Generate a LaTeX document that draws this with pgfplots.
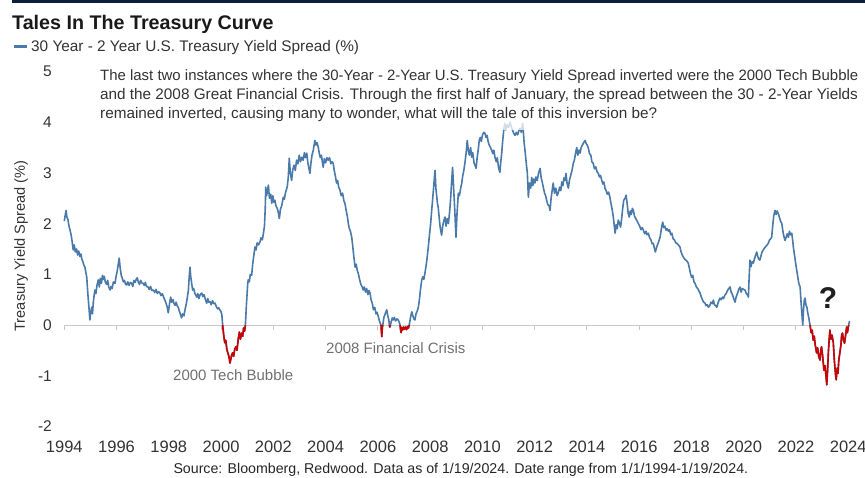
\documentclass[border=0pt]{standalone}
\usepackage{pgfplots}
\pgfplotsset{compat=1.18}
\usepackage{fontspec}
\setmainfont{Liberation Sans}
\definecolor{lineblue}{RGB}{74,122,170}
\definecolor{invred}{RGB}{204,0,0}
\definecolor{navy}{RGB}{12,30,60}
\definecolor{txt}{RGB}{51,51,51}
\definecolor{lbl}{RGB}{112,112,112}
\definecolor{zline}{RGB}{200,200,200}
\begin{document}
\begin{tikzpicture}
\path[use as bounding box] (0pt,0pt) rectangle (865pt,477pt);
\fill[navy] (12pt,473.5pt) rectangle (865pt,477pt);
\node[anchor=base west, inner sep=0pt, font=\fontsize{19.7}{22}\selectfont\bfseries, text=black!90] at (12pt,447.5pt) {Tales In The Treasury Curve};
\draw[lineblue, line width=3pt] (14pt,430.3pt) -- (27pt,430.3pt);
\node[anchor=base west, inner sep=0pt, font=\fontsize{15.35}{18}\selectfont, text=txt] at (31pt,425.3pt) {30 Year - 2 Year U.S. Treasury Yield Spread (\%)};
\node[rotate=90, inner sep=0pt, font=\fontsize{14.6}{17}\selectfont, text=txt] at (21pt,231pt) {Treasury Yield Spread (\%)};
\begin{axis}[
  at={(64.3pt,50.6pt)}, anchor=south west, scale only axis,
  width=783.9pt, height=354.9pt,
  xmin=1994, xmax=2024, ymin=-2, ymax=5, clip=false,
  axis line style={draw=none}, tick style={draw=none},
  xtick={1994,1996,1998,2000,2002,2004,2006,2008,2010,2012,2014,2016,2018,2020,2022,2024},
  xticklabels={1994,1996,1998,2000,2002,2004,2006,2008,2010,2012,2014,2016,2018,2020,2022,2024},
  ytick={-2,-1,0,1,2,3,4,5},
  yticklabels={-2,-1,0,1,2,3,4,5},
  xticklabel style={anchor=base, yshift=-26.3pt, inner sep=0pt, font=\fontsize{16.5}{18}\selectfont, text=txt},
  yticklabel style={anchor=east, xshift=-12.3pt, inner sep=0pt, font=\fontsize{15.5}{18}\selectfont, text=txt},
]
\draw[zline, line width=1pt] (axis cs:1994,0) -- (axis cs:2024.05,0);
\pgfplotsinvokeforeach{1994,1996,1998,2000,2002,2004,2006,2008,2010,2012,2014,2016,2018,2020,2022}{
  \draw[zline, line width=1pt] (axis cs:#1,0) -- ++(0pt,-5pt);
}
\addplot[lineblue, line width=1.6pt, line join=round] coordinates {
(1994.00,2.05) (1994.03,2.15) (1994.07,2.26) (1994.10,2.12) (1994.14,2.08) (1994.18,1.95) (1994.22,1.87) (1994.26,1.78)
(1994.30,1.65) (1994.34,1.48) (1994.38,1.58) (1994.42,1.44) (1994.47,1.50) (1994.51,1.38) (1994.55,1.46) (1994.60,1.35)
(1994.64,1.40) (1994.67,1.30) (1994.71,1.25) (1994.75,1.18) (1994.79,1.14) (1994.83,1.02) (1994.86,0.94) (1994.89,0.70)
(1994.92,0.49) (1994.95,0.30) (1994.98,0.10) (1995.01,0.25) (1995.05,0.35) (1995.08,0.22) (1995.11,0.45) (1995.14,0.58)
(1995.17,0.69) (1995.21,0.62) (1995.25,0.78) (1995.30,0.89) (1995.34,0.75) (1995.38,0.92) (1995.42,0.82) (1995.46,0.98)
(1995.49,0.90) (1995.53,0.96) (1995.57,0.85) (1995.62,0.80) (1995.66,0.88) (1995.70,0.75) (1995.75,0.69) (1995.79,0.76)
(1995.83,0.72) (1995.88,0.85) (1995.94,0.82) (1995.98,0.95) (1996.02,1.05) (1996.06,1.18) (1996.10,1.32) (1996.14,1.12)
(1996.18,0.98) (1996.22,0.92) (1996.26,0.85) (1996.30,0.88) (1996.35,0.80) (1996.39,0.79) (1996.43,0.85) (1996.48,0.78)
(1996.53,0.84) (1996.58,0.82) (1996.62,0.76) (1996.66,0.88) (1996.71,0.84) (1996.75,0.90) (1996.79,0.93) (1996.83,0.85)
(1996.88,0.80) (1996.92,0.88) (1996.97,0.83) (1997.02,0.82) (1997.06,0.78) (1997.10,0.84) (1997.15,0.76) (1997.21,0.75)
(1997.25,0.70) (1997.30,0.76) (1997.35,0.68) (1997.41,0.69) (1997.46,0.64) (1997.51,0.70) (1997.56,0.62) (1997.61,0.66)
(1997.66,0.63) (1997.70,0.58) (1997.75,0.62) (1997.80,0.55) (1997.85,0.49) (1997.90,0.42) (1997.94,0.35) (1997.98,0.24)
(1998.02,0.40) (1998.07,0.55) (1998.11,0.45) (1998.16,0.50) (1998.20,0.42) (1998.24,0.39) (1998.28,0.45) (1998.32,0.38)
(1998.36,0.35) (1998.40,0.28) (1998.45,0.20) (1998.49,0.14) (1998.53,0.22) (1998.58,0.18) (1998.62,0.30) (1998.67,0.42)
(1998.71,0.55) (1998.75,0.69) (1998.78,0.95) (1998.81,1.14) (1998.84,0.95) (1998.88,0.80) (1998.91,0.69) (1998.95,0.72)
(1999.00,0.62) (1999.04,0.58) (1999.07,0.55) (1999.11,0.62) (1999.15,0.52) (1999.20,0.60) (1999.26,0.63) (1999.30,0.56)
(1999.35,0.60) (1999.40,0.50) (1999.45,0.43) (1999.49,0.52) (1999.53,0.45) (1999.58,0.46) (1999.62,0.40) (1999.67,0.48)
(1999.72,0.42) (1999.77,0.43) (1999.82,0.36) (1999.87,0.32) (1999.91,0.34) (1999.95,0.30) (2000.00,0.26) (2000.03,0.20)
(2000.06,0.00) (2000.10,-0.20) (2000.14,-0.35) (2000.18,-0.30) (2000.22,-0.48) (2000.26,-0.55) (2000.30,-0.62) (2000.34,-0.75)
(2000.37,-0.68) (2000.40,-0.60) (2000.44,-0.55) (2000.48,-0.62) (2000.52,-0.48) (2000.57,-0.43) (2000.61,-0.50) (2000.65,-0.30)
(2000.70,-0.14) (2000.74,-0.28) (2000.79,-0.16) (2000.83,-0.22) (2000.86,-0.06) (2000.90,-0.12) (2000.93,0.00) (2000.97,0.40)
(2001.02,0.82) (2001.04,0.89) (2001.08,0.85) (2001.12,1.00) (2001.17,0.98) (2001.21,1.20) (2001.26,1.40) (2001.30,1.54)
(2001.34,1.48) (2001.38,1.62) (2001.43,1.58) (2001.49,1.64) (2001.53,1.72) (2001.58,1.68) (2001.62,1.81) (2001.66,1.95)
(2001.69,2.30) (2001.71,2.72) (2001.74,2.55) (2001.77,2.62) (2001.81,2.76) (2001.85,2.50) (2001.90,2.58) (2001.94,2.40)
(2001.98,2.55) (2002.02,2.42) (2002.06,2.46) (2002.10,2.35) (2002.15,2.30) (2002.19,2.22) (2002.23,2.10) (2002.27,2.28)
(2002.32,2.35) (2002.38,2.52) (2002.42,2.48) (2002.47,2.62) (2002.53,2.72) (2002.57,2.90) (2002.61,3.29) (2002.65,3.00)
(2002.70,2.85) (2002.74,3.05) (2002.79,3.15) (2002.84,3.05) (2002.89,3.25) (2002.94,3.18) (2002.99,3.35) (2003.04,3.22)
(2003.09,3.31) (2003.14,3.25) (2003.19,3.40) (2003.23,3.30) (2003.28,3.39) (2003.32,3.20) (2003.36,3.10) (2003.40,2.99)
(2003.44,3.20) (2003.48,3.35) (2003.53,3.45) (2003.56,3.55) (2003.59,3.64) (2003.63,3.55) (2003.67,3.60) (2003.72,3.50)
(2003.76,3.38) (2003.80,3.30) (2003.84,3.35) (2003.88,3.20) (2003.91,3.11) (2003.95,3.28) (2004.00,3.20) (2004.05,3.30)
(2004.10,3.25) (2004.15,3.30) (2004.20,3.18) (2004.25,3.22) (2004.29,3.19) (2004.33,3.05) (2004.38,2.92) (2004.42,2.80)
(2004.46,2.85) (2004.50,2.72) (2004.55,2.66) (2004.60,2.55) (2004.65,2.60) (2004.70,2.45) (2004.74,2.40) (2004.78,2.28)
(2004.83,2.15) (2004.87,2.00) (2004.91,1.90) (2004.95,1.85) (2005.00,1.73) (2005.04,1.55) (2005.08,1.35) (2005.13,1.14)
(2005.17,1.20) (2005.21,1.08) (2005.25,1.02) (2005.30,0.90) (2005.35,0.80) (2005.40,0.75) (2005.44,0.69) (2005.48,0.75)
(2005.53,0.65) (2005.57,0.72) (2005.62,0.60) (2005.66,0.68) (2005.70,0.63) (2005.74,0.50) (2005.79,0.42) (2005.83,0.30)
(2005.88,0.35) (2005.93,0.22) (2005.97,0.25) (2006.02,0.16) (2006.06,0.08) (2006.10,0.02) (2006.12,0.00) (2006.15,-0.23)
(2006.17,-0.05) (2006.19,0.00) (2006.23,0.15) (2006.28,0.22) (2006.34,0.30) (2006.38,0.18) (2006.42,0.10) (2006.44,0.00)
(2006.46,-0.04) (2006.48,0.00) (2006.52,0.08) (2006.55,0.14) (2006.59,0.10) (2006.63,0.15) (2006.68,0.08) (2006.73,0.12)
(2006.78,0.10) (2006.82,0.05) (2006.85,0.00) (2006.87,-0.10) (2006.89,-0.15) (2006.92,-0.05) (2006.95,-0.10) (2006.98,-0.04)
(2007.02,-0.08) (2007.06,-0.04) (2007.10,-0.09) (2007.14,-0.03) (2007.17,-0.06) (2007.20,0.00) (2007.24,0.12) (2007.27,0.20)
(2007.30,0.26) (2007.34,0.18) (2007.38,0.12) (2007.42,0.10) (2007.46,0.22) (2007.51,0.28) (2007.55,0.35) (2007.59,0.50)
(2007.63,0.70) (2007.68,0.89) (2007.72,0.95) (2007.76,0.90) (2007.80,1.02) (2007.84,1.15) (2007.88,1.30) (2007.93,1.54)
(2007.97,1.75) (2008.02,2.00) (2008.06,2.26) (2008.10,2.50) (2008.14,2.75) (2008.17,2.95) (2008.19,3.05) (2008.22,2.70)
(2008.25,2.55) (2008.28,2.40) (2008.31,2.32) (2008.35,2.10) (2008.38,1.95) (2008.41,1.85) (2008.44,1.77) (2008.48,1.95)
(2008.52,2.05) (2008.57,2.13) (2008.61,1.95) (2008.65,2.10) (2008.70,2.00) (2008.74,2.20) (2008.78,2.45) (2008.82,2.80)
(2008.86,3.11) (2008.90,2.70) (2008.94,2.30) (2008.99,1.73) (2009.03,2.20) (2009.08,2.60) (2009.12,2.55) (2009.17,2.70)
(2009.21,2.80) (2009.25,2.95) (2009.29,3.05) (2009.33,3.19) (2009.38,3.40) (2009.42,3.64) (2009.46,3.45) (2009.50,3.35)
(2009.55,3.50) (2009.59,3.31) (2009.63,3.40) (2009.68,3.20) (2009.72,3.15) (2009.76,3.09) (2009.80,3.30) (2009.84,3.45)
(2009.88,3.64) (2009.92,3.70) (2009.96,3.62) (2010.00,3.74) (2010.05,3.80) (2010.10,3.78) (2010.14,3.70) (2010.18,3.74)
(2010.22,3.62) (2010.26,3.55) (2010.31,3.50) (2010.36,3.44) (2010.40,3.38) (2010.44,3.45) (2010.48,3.31) (2010.53,3.22)
(2010.57,3.30) (2010.62,3.10) (2010.67,3.01) (2010.70,3.20) (2010.74,3.39) (2010.78,3.65) (2010.82,3.85) (2010.86,3.98)
(2010.90,3.85) (2010.95,3.95) (2011.00,3.90) (2011.06,4.00) (2011.10,3.92) (2011.15,3.85) (2011.20,3.78) (2011.25,3.74)
(2011.30,3.80) (2011.35,3.75) (2011.40,3.84) (2011.44,3.88) (2011.49,3.80) (2011.54,3.98) (2011.57,3.80) (2011.60,3.58)
(2011.64,3.40) (2011.68,3.19) (2011.72,3.00) (2011.76,2.52) (2011.80,2.80) (2011.85,2.70) (2011.89,2.91) (2011.93,2.75)
(2011.97,2.88) (2012.01,2.80) (2012.05,2.92) (2012.10,2.85) (2012.15,3.00) (2012.21,3.09) (2012.25,2.90) (2012.29,2.82)
(2012.33,2.72) (2012.38,2.60) (2012.42,2.55) (2012.46,2.46) (2012.50,2.38) (2012.55,2.35) (2012.59,2.26) (2012.63,2.50)
(2012.67,2.65) (2012.71,2.80) (2012.76,2.60) (2012.81,2.70) (2012.86,2.55) (2012.91,2.62) (2012.96,2.72) (2013.00,2.65)
(2013.04,2.82) (2013.08,2.75) (2013.12,2.90) (2013.16,2.85) (2013.20,2.99) (2013.24,2.80) (2013.29,2.70) (2013.33,2.85)
(2013.38,2.95) (2013.43,3.05) (2013.48,3.19) (2013.52,3.25) (2013.57,3.40) (2013.61,3.50) (2013.65,3.35) (2013.70,3.45)
(2013.74,3.39) (2013.78,3.50) (2013.83,3.55) (2013.88,3.60) (2013.93,3.64) (2013.97,3.58) (2014.01,3.55) (2014.05,3.50)
(2014.10,3.38) (2014.15,3.35) (2014.19,3.22) (2014.24,3.19) (2014.29,3.08) (2014.34,3.12) (2014.39,3.02) (2014.44,2.99)
(2014.48,2.92) (2014.52,2.95) (2014.57,2.85) (2014.61,2.78) (2014.65,2.82) (2014.69,2.70) (2014.73,2.66) (2014.78,2.58)
(2014.83,2.62) (2014.88,2.52) (2014.92,2.40) (2014.96,2.30) (2015.01,2.13) (2015.05,1.95) (2015.08,1.81) (2015.12,1.98)
(2015.16,1.90) (2015.20,2.07) (2015.25,2.00) (2015.29,1.93) (2015.33,2.10) (2015.37,2.30) (2015.41,2.46) (2015.46,2.50)
(2015.50,2.56) (2015.54,2.40) (2015.58,2.20) (2015.62,2.13) (2015.66,2.25) (2015.70,2.18) (2015.74,2.30) (2015.78,2.26)
(2015.82,2.15) (2015.87,2.10) (2015.92,2.05) (2015.97,2.00) (2016.02,1.95) (2016.07,1.88) (2016.12,1.92) (2016.16,1.87)
(2016.21,1.80) (2016.26,1.85) (2016.30,1.78) (2016.35,1.81) (2016.40,1.72) (2016.45,1.68) (2016.50,1.60) (2016.54,1.61)
(2016.58,1.52) (2016.62,1.44) (2016.66,1.52) (2016.70,1.58) (2016.75,1.65) (2016.80,1.73) (2016.85,1.90) (2016.90,2.03)
(2016.94,1.92) (2016.98,1.95) (2017.03,1.87) (2017.07,1.90) (2017.12,1.85) (2017.16,1.88) (2017.21,1.78) (2017.25,1.81)
(2017.30,1.70) (2017.35,1.68) (2017.40,1.62) (2017.44,1.61) (2017.50,1.58) (2017.56,1.54) (2017.60,1.45) (2017.65,1.38)
(2017.69,1.34) (2017.74,1.30) (2017.79,1.28) (2017.84,1.25) (2017.88,1.22) (2017.93,1.10) (2017.97,1.00) (2018.01,0.94)
(2018.05,0.98) (2018.10,0.85) (2018.14,0.82) (2018.19,0.75) (2018.24,0.72) (2018.28,0.68) (2018.33,0.63) (2018.38,0.55)
(2018.42,0.50) (2018.47,0.45) (2018.52,0.43) (2018.56,0.38) (2018.61,0.40) (2018.65,0.35) (2018.70,0.38) (2018.75,0.45)
(2018.80,0.42) (2018.84,0.49) (2018.88,0.40) (2018.93,0.38) (2018.97,0.35) (2019.01,0.42) (2019.05,0.48) (2019.09,0.53)
(2019.14,0.50) (2019.19,0.55) (2019.23,0.52) (2019.28,0.59) (2019.33,0.62) (2019.38,0.68) (2019.43,0.72) (2019.48,0.75)
(2019.52,0.65) (2019.57,0.60) (2019.62,0.52) (2019.67,0.45) (2019.71,0.55) (2019.76,0.62) (2019.81,0.70) (2019.86,0.75)
(2019.90,0.65) (2019.95,0.72) (2020.00,0.70) (2020.05,0.69) (2020.10,0.62) (2020.15,0.59) (2020.18,0.55) (2020.21,0.95)
(2020.24,1.28) (2020.28,1.15) (2020.32,1.25) (2020.37,1.22) (2020.41,1.30) (2020.46,1.38) (2020.50,1.44) (2020.54,1.35)
(2020.58,1.30) (2020.62,1.28) (2020.67,1.38) (2020.71,1.45) (2020.75,1.48) (2020.80,1.52) (2020.85,1.55) (2020.90,1.58)
(2020.94,1.61) (2020.99,1.68) (2021.03,1.70) (2021.07,1.73) (2021.11,1.95) (2021.15,2.15) (2021.20,2.26) (2021.24,2.18)
(2021.28,2.25) (2021.32,2.20) (2021.37,2.12) (2021.41,2.05) (2021.46,2.00) (2021.50,1.85) (2021.54,1.75) (2021.58,1.67)
(2021.62,1.72) (2021.67,1.80) (2021.71,1.73) (2021.75,1.85) (2021.79,1.78) (2021.84,1.81) (2021.88,1.65) (2021.90,1.54)
(2021.94,1.40) (2021.98,1.25) (2022.03,1.08) (2022.07,0.95) (2022.11,0.82) (2022.16,0.75) (2022.19,0.49) (2022.23,0.20)
(2022.26,0.00) (2022.29,0.30) (2022.32,0.49) (2022.35,0.53) (2022.38,0.40) (2022.42,0.35) (2022.45,0.24) (2022.49,0.15)
(2022.52,0.05) (2022.54,0.00) (2022.58,-0.15) (2022.62,-0.10) (2022.66,-0.30) (2022.70,-0.22) (2022.74,-0.40) (2022.79,-0.55)
(2022.83,-0.45) (2022.87,-0.62) (2022.92,-0.69) (2022.95,-0.50) (2022.98,-0.43) (2023.02,-0.60) (2023.07,-0.89) (2023.11,-0.80)
(2023.15,-1.00) (2023.18,-1.18) (2023.21,-0.90) (2023.24,-0.55) (2023.27,-0.30) (2023.30,-0.10) (2023.34,-0.28) (2023.38,-0.20)
(2023.43,-0.35) (2023.47,-0.70) (2023.51,-0.95) (2023.54,-1.08) (2023.58,-0.85) (2023.61,-0.95) (2023.64,-0.69) (2023.68,-0.55)
(2023.72,-0.40) (2023.75,-0.20) (2023.78,-0.16) (2023.82,-0.30) (2023.86,-0.36) (2023.90,-0.20) (2023.94,-0.04) (2023.97,-0.15)
(2024.00,-0.05) (2024.02,0.00) (2024.05,0.08)
};
\addplot[invred, line width=1.6pt, line join=round] coordinates {
(2000.06,0.00) (2000.10,-0.20) (2000.14,-0.35) (2000.18,-0.30) (2000.22,-0.48) (2000.26,-0.55) (2000.30,-0.62) (2000.34,-0.75)
(2000.37,-0.68) (2000.40,-0.60) (2000.44,-0.55) (2000.48,-0.62) (2000.52,-0.48) (2000.57,-0.43) (2000.61,-0.50) (2000.65,-0.30)
(2000.70,-0.14) (2000.74,-0.28) (2000.79,-0.16) (2000.83,-0.22) (2000.86,-0.06) (2000.90,-0.12) (2000.93,0.00)
};
\addplot[invred, line width=1.6pt, line join=round] coordinates {
(2006.12,0.00) (2006.15,-0.23) (2006.17,-0.05) (2006.19,0.00)
};
\addplot[invred, line width=1.6pt, line join=round] coordinates {
(2006.44,0.00) (2006.46,-0.04) (2006.48,0.00)
};
\addplot[invred, line width=1.6pt, line join=round] coordinates {
(2006.85,0.00) (2006.87,-0.10) (2006.89,-0.15) (2006.92,-0.05) (2006.95,-0.10) (2006.98,-0.04)
(2007.02,-0.08) (2007.06,-0.04) (2007.10,-0.09) (2007.14,-0.03) (2007.17,-0.06) (2007.20,0.00)
};
\addplot[invred, line width=1.6pt, line join=round] coordinates {
(2022.54,0.00) (2022.58,-0.15) (2022.62,-0.10) (2022.66,-0.30) (2022.70,-0.22) (2022.74,-0.40) (2022.79,-0.55)
(2022.83,-0.45) (2022.87,-0.62) (2022.92,-0.69) (2022.95,-0.50) (2022.98,-0.43) (2023.02,-0.60) (2023.07,-0.89) (2023.11,-0.80)
(2023.15,-1.00) (2023.18,-1.18) (2023.21,-0.90) (2023.24,-0.55) (2023.27,-0.30) (2023.30,-0.10) (2023.34,-0.28) (2023.38,-0.20)
(2023.43,-0.35) (2023.47,-0.70) (2023.51,-0.95) (2023.54,-1.08) (2023.58,-0.85) (2023.61,-0.95) (2023.64,-0.69) (2023.68,-0.55)
(2023.72,-0.40) (2023.75,-0.20) (2023.78,-0.16) (2023.82,-0.30) (2023.86,-0.36) (2023.90,-0.20) (2023.94,-0.04) (2023.97,-0.15)
(2024.00,-0.05) (2024.02,0.00)
};
\end{axis}
\fill[white, opacity=0.75] (98pt,347pt) rectangle (865pt,413pt);
\begin{scope}[every node/.style={anchor=base west, inner sep=0pt, font=\fontsize{15.3}{18}\selectfont, text=txt}]
\node[font=\fontsize{14.95}{18}\selectfont] at (100pt,396.3pt) {The last two instances where the 30-Year - 2-Year U.S. Treasury Yield Spread inverted were the 2000 Tech Bubble};
\node at (100pt,377.7pt) {and the 2008 Great Financial Crisis. Through the first half of January, the spread between the 30 - 2-Year Yields};
\node at (100pt,358.7pt) {remained inverted, causing many to wonder, what will the tale of this inversion be?};
\end{scope}
\node[anchor=base west, inner sep=0pt, font=\fontsize{15}{18}\selectfont, text=lbl] at (173pt,96pt) {2000 Tech Bubble};
\node[anchor=base west, inner sep=0pt, font=\fontsize{15}{18}\selectfont, text=lbl] at (326pt,123.7pt) {2008 Financial Crisis};
\node[inner sep=0pt, font=\fontsize{30}{32}\selectfont\bfseries, text=black!88] at (828pt,179pt) {?};
\node[anchor=base west, inner sep=0pt, font=\fontsize{14.2}{16}\selectfont, text=black!85] at (173.3pt,4pt) {Source: Bloomberg, Redwood. Data as of 1/19/2024. Date range from 1/1/1994-1/19/2024.};
\end{tikzpicture}
\end{document}
